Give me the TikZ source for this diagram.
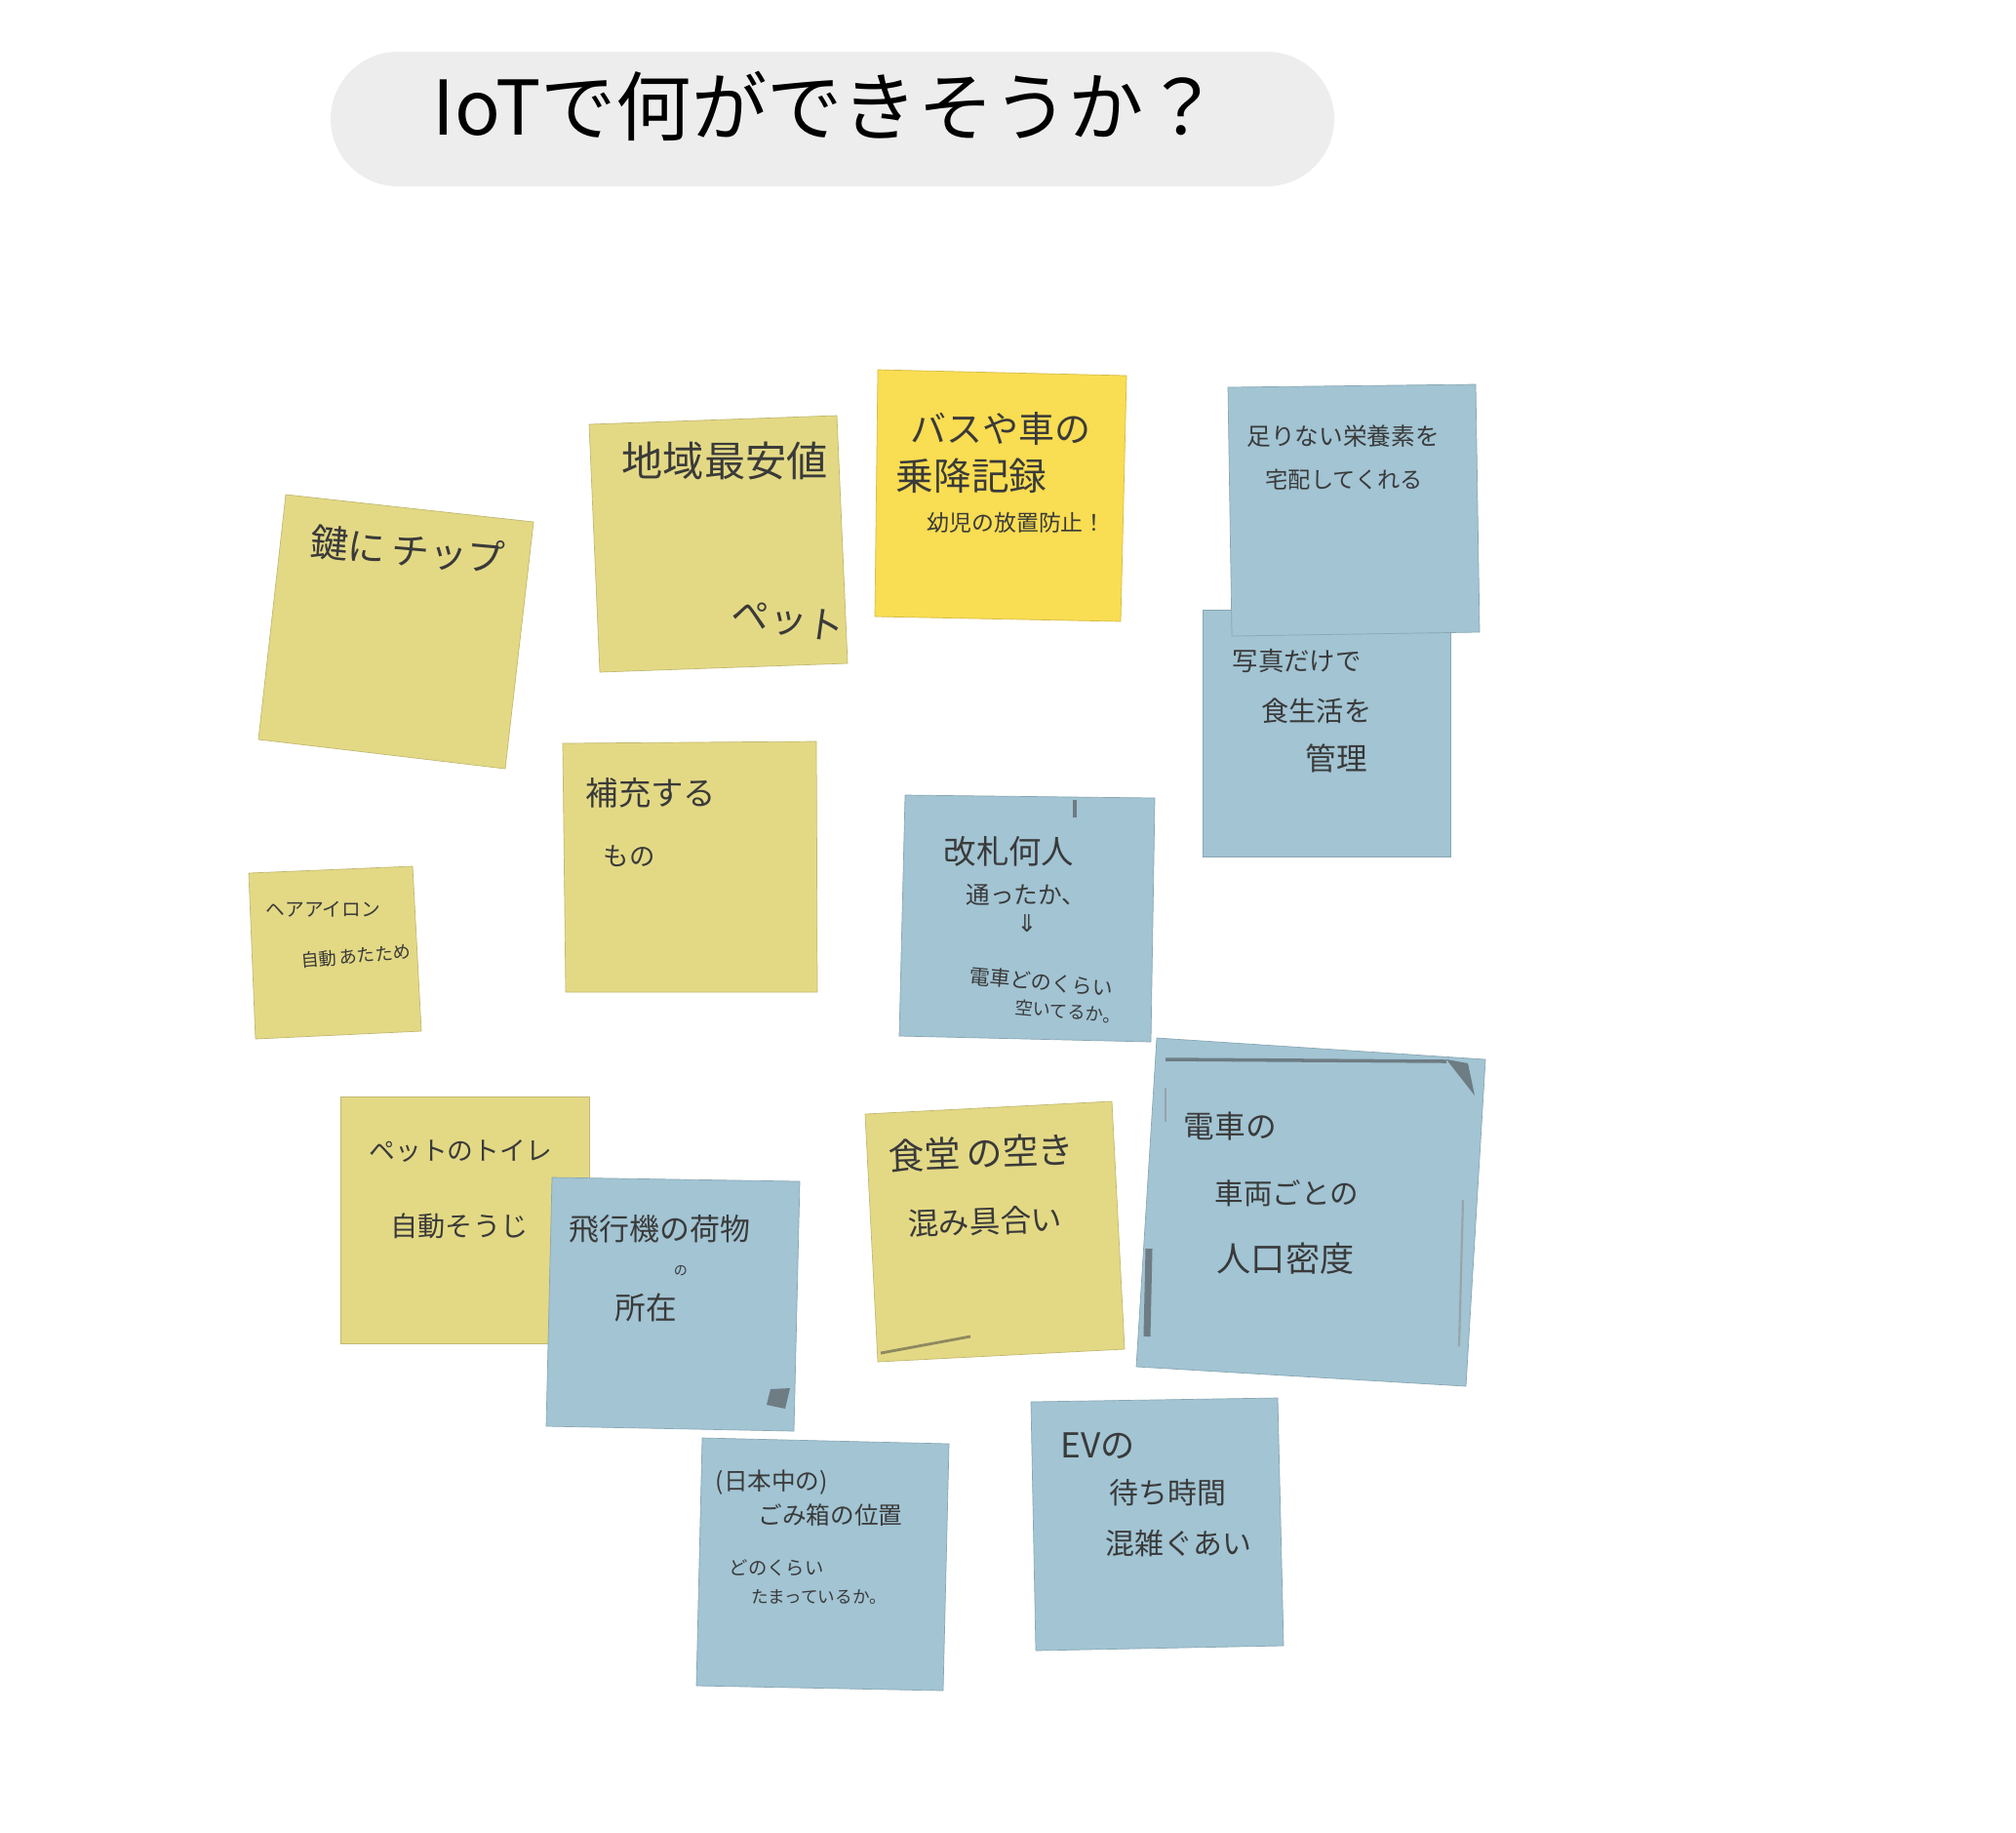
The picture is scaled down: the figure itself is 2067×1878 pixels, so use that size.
\documentclass[tikz,border=0pt]{standalone}
\usepackage{fontspec}
\setmainfont{Noto Sans CJK JP}
\newfontfamily\symfont{DejaVu Sans}
\definecolor{titlebg}{HTML}{EDEDED}
\definecolor{ynote}{HTML}{E3D985}
\definecolor{bnote}{HTML}{F9DD52}
\definecolor{blnote}{HTML}{A2C4D3}
\definecolor{inkc}{HTML}{3A3A3A}
\definecolor{scanc}{HTML}{6E7C84}
\newcommand{\fsz}[1]{\fontsize{#1pt}{#1pt}\selectfont}
\tikzset{
  hw/.style={text=inkc, inner sep=0pt, anchor=west},
  yellowpad/.style={fill=ynote, draw=ynote!85!black, line width=0.2pt},
  brightpad/.style={fill=bnote, draw=bnote!85!black, line width=0.2pt},
  bluepad/.style={fill=blnote, draw=blnote!85!black, line width=0.2pt},
  scanmark/.style={draw=scanc, line width=1pt}
}
\begin{document}
\begin{tikzpicture}[x=0.01cm,y=-0.01cm]
\useasboundingbox (0,0) rectangle (2067,1878);
% title
\fill[titlebg, rounded corners=0.69cm] (339,53) rectangle (1368,191);
\node[text=black, inner sep=0pt] (title) at (847,109) {\fsz{22}IoTで何ができそうか？};

% note 1: 鍵にチップ
\path[yellowpad] (293,507) -- (547,535) -- (518,788) -- (265,758) -- cycle;
\node[hw, rotate=-5] (n1) at (318,555) {\fsz{11}鍵に\,チップ};

% note 2: 地域最安値
\path[yellowpad] (604,435) -- (858,426) -- (869,680) -- (615,689) -- cycle;
\node[hw] (n2a) at (637,472) {\fsz{12}地域最安値};
\node[hw, rotate=-8] (n2b) at (750,628) {\fsz{11}ペット};

% note 3: バスや車の乗降記録
\path[brightpad] (900,379) -- (1155,385) -- (1149,637) -- (897,632) -- cycle;
\node[hw] (n3a) at (933,440) {\fsz{10.5}バスや車の};
\node[hw] (n3b) at (918,488) {\fsz{11}乗降記録};
\node[hw] (n3c) at (950,536) {\fsz{6.5}幼児の放置防止！};

% note 5: 写真だけで食生活を管理 (behind note 4)
\path[bluepad] (1233,625) -- (1487,625) -- (1487,878) -- (1233,878) -- cycle;
\node[hw] (n5a) at (1263,677) {\fsz{7.5}写真だけで};
\node[hw] (n5b) at (1293,729) {\fsz{8}食生活を};
\node[hw] (n5c) at (1338,777) {\fsz{9}管理};

% note 4: 足りない栄養素を宅配してくれる
\path[bluepad] (1259,397) -- (1513,394) -- (1517,648) -- (1263,652) -- cycle;
\node[hw] (n4a) at (1278,447) {\fsz{7}足りない栄養素を};
\node[hw] (n4b) at (1297,492) {\fsz{6.6}宅配してくれる};

% note 6: ヘアアイロン 自動あたため
\path[yellowpad] (255,895) -- (423,888) -- (432,1057) -- (262,1065) -- cycle;
\node[hw] (n6a) at (272,932) {\fsz{5.6}ヘアアイロン};
\node[hw, rotate=5] (n6b) at (308,985) {\fsz{5.2}自動\,あたため};

% note 7: 補充するもの
\path[yellowpad] (577,762) -- (837,760) -- (838,1017) -- (580,1017) -- cycle;
\node[hw] (n7a) at (600,813) {\fsz{9.5}補充する};
\node[hw] (n7b) at (618,878) {\fsz{7.5}もの};

% note 8: 改札何人通ったか
\path[bluepad] (928,815) -- (1184,818) -- (1180,1068) -- (922,1062) -- cycle;
\draw[scanmark] (1102,820) -- (1102,838);
\node[hw] (n8a) at (967,873) {\fsz{9.5}改札何人};
\node[hw] (n8b) at (990,917) {\fsz{7}通ったか、};
\node[text=inkc, inner sep=0pt] (n8c) at (1053,947) {\symfont\fsz{7}⇓};
\node[hw, rotate=-5] (n8d) at (993,1000) {\fsz{6}電車どのくらい};
\node[hw, rotate=-5] (n8e) at (1040,1032) {\fsz{5.2}空いてるか。};

% note 9: 電車の車両ごとの人口密度
\path[bluepad] (1186,1064) -- (1523,1086) -- (1503,1421) -- (1165,1401) -- cycle;
\draw[scanmark] (1195,1086) -- (1483,1088);
\fill[scanc] (1483,1086) -- (1505,1090) -- (1512,1123) -- cycle;
\draw[scanc, line width=2pt] (1178,1280) -- (1176,1370);
\draw[scanc!70, line width=0.6pt] (1195,1115) -- (1195,1150);
\draw[scanc!70, line width=0.6pt] (1500,1230) -- (1496,1380);
\node[hw] (n9a) at (1213,1155) {\fsz{9}電車の};
\node[hw] (n9b) at (1245,1223) {\fsz{8.4}車両ごとの};
\node[hw] (n9c) at (1247,1290) {\fsz{10}人口密度};

% note 10: ペットのトイレ自動そうじ
\path[yellowpad] (349,1124) -- (604,1124) -- (604,1377) -- (349,1377) -- cycle;
\node[hw] (n10a) at (378,1180) {\fsz{7.6}ペットのトイレ};
\node[hw] (n10b) at (400,1257) {\fsz{8}自動そうじ};

% note 11: 飛行機の荷物の所在
\path[bluepad] (566,1207) -- (820,1211) -- (814,1467) -- (560,1462) -- cycle;
\fill[scanc] (790,1424) -- (810,1423) -- (805,1444) -- (786,1440) -- cycle;
\node[hw] (n11a) at (583,1260) {\fsz{8.8}飛行機の荷物};
\node[text=inkc, inner sep=0pt] (n11b) at (698,1303) {\fsz{4}の};
\node[hw] (n11c) at (630,1340) {\fsz{9}所在};

% note 12: 食堂の空き混み具合い
\path[yellowpad] (887,1142) -- (1140,1129) -- (1153,1383) -- (900,1396) -- cycle;
\draw[inkc!50!ynote, line width=0.8pt] (903,1387) -- (995,1370);
\node[hw, rotate=2] (n12a) at (910,1185) {\fsz{10.5}食堂\,の空き};
\node[hw, rotate=2] (n12b) at (930,1255) {\fsz{9}混み具合い};

% note 13: ごみ箱の位置
\path[bluepad] (720,1474) -- (973,1480) -- (967,1733) -- (714,1728) -- cycle;
\node[hw] (n13a) at (733,1520) {\fsz{7}(日本中の)};
\node[hw] (n13b) at (777,1553) {\fsz{7}ごみ箱の位置};
\node[hw] (n13c) at (747,1607) {\fsz{5.5}どのくらい};
\node[hw] (n13d) at (770,1637) {\fsz{5}たまっているか。};

% note 14: EVの待ち時間混雑ぐあい
\path[bluepad] (1057,1437) -- (1310,1433) -- (1316,1687) -- (1062,1692) -- cycle;
\node[hw] (n14a) at (1087,1482) {\fsz{10}EVの};
\node[hw] (n14b) at (1137,1530) {\fsz{8.5}待ち時間};
\node[hw] (n14c) at (1133,1582) {\fsz{8.5}混雑ぐあい};
\end{tikzpicture}
\end{document}
